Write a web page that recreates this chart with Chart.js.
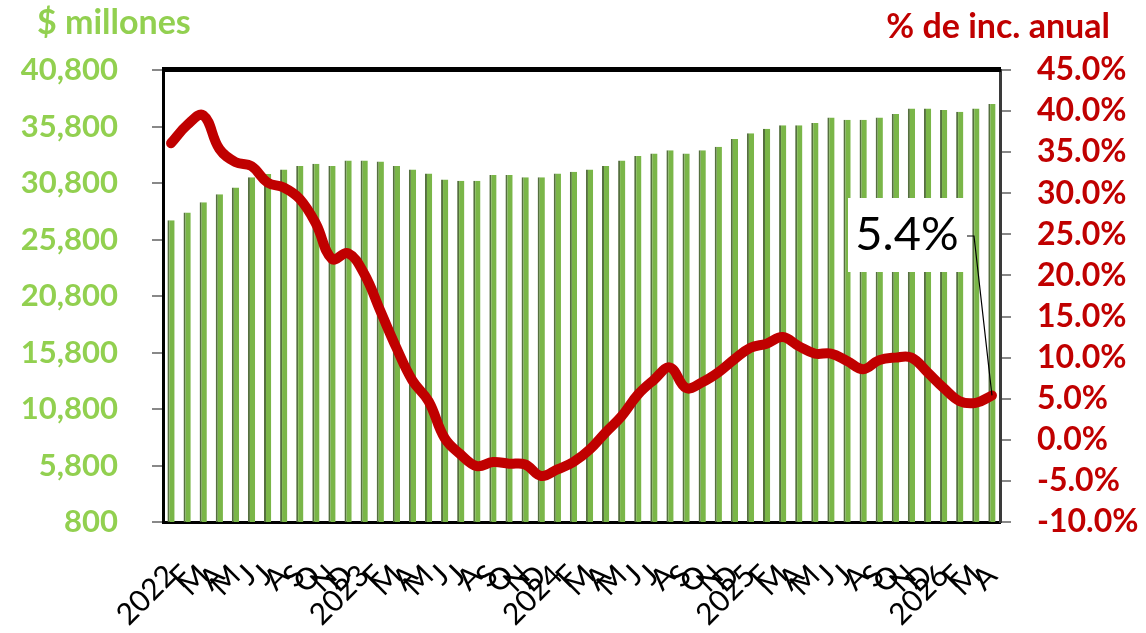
<!DOCTYPE html>
<html>
<head>
<meta charset="utf-8">
<script src="https://cdn.jsdelivr.net/npm/chart.js@4.4.1/dist/chart.umd.min.js"></script>
<style>
  html, body { margin: 0; padding: 0; background: #fff; }
  #wrap { width: 1146px; height: 633px; }
</style>
</head>
<body>
<div id="wrap"><canvas id="chart" width="1146" height="633"></canvas></div>
<script>
const meses = [
  '2022', 'F', 'M', 'A', 'M', 'J', 'J', 'A', 'S', 'O', 'N', 'D',
  '2023', 'F', 'M', 'A', 'M', 'J', 'J', 'A', 'S', 'O', 'N', 'D',
  '2024', 'F', 'M', 'A', 'M', 'J', 'J', 'A', 'S', 'O', 'N', 'D',
  '2025', 'F', 'M', 'A', 'M', 'J', 'J', 'A', 'S', 'O', 'N', 'D',
  '2026', 'F', 'M', 'A'
];

// millones de pesos (barras, eje izquierdo)
const montos = [
  27500, 28200, 29100, 29800, 30400, 31300, 31600, 32000, 32300, 32500, 32300, 32800,
  32800, 32700, 32300, 32000, 31650, 31100, 31000, 31000, 31500, 31500, 31300, 31300,
  31650, 31800, 32000, 32300, 32800, 33200, 33400, 33700, 33400, 33700, 34000, 34700,
  35200, 35600, 35900, 35900, 36100, 36600, 36400, 36400, 36600, 36900, 37400, 37400,
  37250, 37100, 37400, 37800
];

// % de incremento anual (línea, eje derecho)
const incAnual = [
  36.1, 38.3, 39.5, 35.4, 33.8, 33.3, 31.3, 30.7, 29.3, 26.3, 22.0, 22.7,
  20.2, 15.7, 11.2, 7.2, 4.7, 0.2, -1.8, -3.2, -2.7, -2.9, -3.0, -4.4,
  -3.6, -2.7, -1.2, 0.9, 2.9, 5.5, 7.3, 8.8, 6.3, 7.0, 8.2, 9.8,
  11.2, 11.7, 12.5, 11.4, 10.5, 10.5, 9.6, 8.6, 9.7, 10.0, 10.0, 8.2,
  6.3, 4.7, 4.5, 5.4
];

const ticksIzq = [800, 5800, 10800, 15800, 20800, 25800, 30800, 35800, 40800];
const ticksDer = [-10, -5, 0, 5, 10, 15, 20, 25, 30, 35, 40, 45];

const VERDE = '#92D050';
const ROJO = '#C00000';
const fuente = 'Lato, "Open Sans", sans-serif';

// títulos de los ejes, marco superior y etiqueta del último dato
const extras = {
  id: 'extras',
  afterDraw(chart) {
    const ctx = chart.ctx;
    const a = chart.chartArea;
    ctx.save();

    // marco superior grueso
    ctx.fillStyle = '#000';
    ctx.fillRect(a.left - 1, a.top - 3, a.right - a.left + 2, 5);

    ctx.font = 'bold 34px ' + fuente;
    ctx.textBaseline = 'alphabetic';
    ctx.fillStyle = VERDE;
    ctx.textAlign = 'left';
    ctx.fillText('$ millones', 37, 34);
    ctx.fillStyle = ROJO;
    ctx.textAlign = 'right';
    ctx.fillText('% de inc. anual', 1110, 38);

    // etiqueta del último punto
    const meta = chart.getDatasetMeta(0);
    const last = meta.data[meta.data.length - 1];
    const bx = a.right - 152, by = a.top + 128, bw = 118, bh = 74;
    ctx.fillStyle = '#fff';
    ctx.fillRect(bx, by, bw, bh);
    ctx.strokeStyle = '#000';
    ctx.lineWidth = 1.2;
    ctx.beginPath();
    ctx.moveTo(bx + bw + 1, by + 38);
    ctx.lineTo(bx + bw + 8, by + 38);
    ctx.lineTo(last.x, last.y);
    ctx.stroke();
    ctx.fillStyle = '#000';
    ctx.font = '47px ' + fuente;
    ctx.textAlign = 'center';
    ctx.textBaseline = 'middle';
    ctx.fillText(incAnual[incAnual.length - 1].toFixed(1) + '%', bx + bw / 2, by + bh / 2);
    ctx.restore();
  }
};

new Chart(document.getElementById('chart'), {
  data: {
    labels: meses,
    datasets: [
      {
        type: 'line',
        label: '% de inc. anual',
        data: incAnual,
        yAxisID: 'y1',
        borderColor: ROJO,
        borderWidth: 10,
        tension: 0.4,
        pointRadius: 0,
        borderCapStyle: 'round',
        borderJoinStyle: 'round',
        order: 0
      },
      {
        type: 'bar',
        label: '$ millones',
        data: montos,
        yAxisID: 'y',
        backgroundColor: '#7AB648',
        borderColor: '#55703F',
        borderWidth: { left: 2, right: 0, top: 0, bottom: 0 },
        borderSkipped: false,
        categoryPercentage: 1,
        barPercentage: 0.45,
        order: 1
      }
    ]
  },
  options: {
    responsive: false,
    animation: false,
    layout: { padding: { top: 70, left: 0, right: 0, bottom: 0 } },
    plugins: {
      legend: { display: false },
      tooltip: { enabled: false }
    },
    scales: {
      x: {
        offset: true,
        grid: { display: false },
        border: { display: true, color: '#000', width: 3 },
        ticks: {
          autoSkip: false,
          maxRotation: 45,
          minRotation: 45,
          padding: 28,
          color: '#000',
          font: { family: fuente, size: 30 }
        },
        afterFit(scale) { scale.height = 111; }
      },
      y: {
        position: 'left',
        min: 800,
        max: 40800,
        afterBuildTicks(scale) { scale.ticks = ticksIzq.map(v => ({ value: v })); },
        grid: { drawOnChartArea: false, color: '#888', tickLength: 11, lineWidth: 2 },
        border: { display: true, color: '#000', width: 3 },
        ticks: {
          autoSkip: false,
          padding: 34,
          color: VERDE,
          font: { family: fuente, size: 31, weight: 'bold' },
          callback: v => v.toLocaleString('en-US')
        },
        afterFit(scale) { scale.width = 163; }
      },
      y1: {
        position: 'right',
        min: -10,
        max: 45,
        afterBuildTicks(scale) { scale.ticks = ticksDer.map(v => ({ value: v })); },
        grid: { drawOnChartArea: false, color: '#888', tickLength: 11, lineWidth: 2 },
        border: { display: true, color: '#3a3a3a', width: 3 },
        ticks: {
          autoSkip: false,
          padding: 26,
          color: ROJO,
          font: { family: fuente, size: 32, weight: 'bold' },
          callback: v => v.toFixed(1) + '%'
        },
        afterFit(scale) { scale.width = 146; }
      }
    }
  },
  plugins: [extras]
});
</script>
</body>
</html>
